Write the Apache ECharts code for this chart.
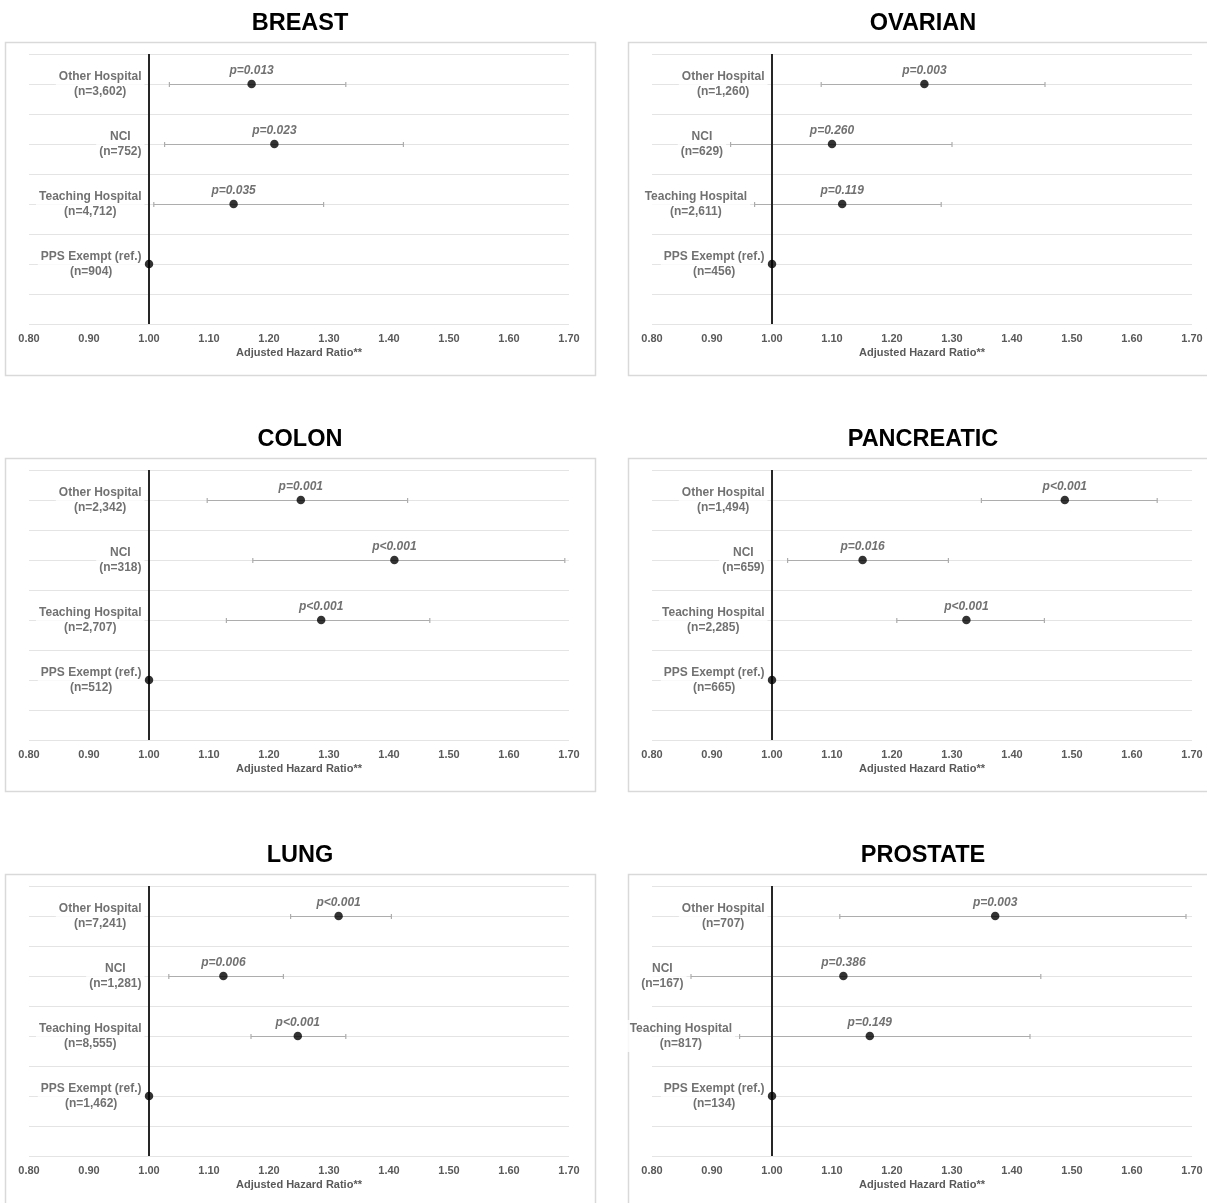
<!DOCTYPE html>
<html>
<head>
<meta charset="utf-8">
<title>Adjusted Hazard Ratios by Hospital Type</title>
<script src="https://cdn.jsdelivr.net/npm/echarts@6/dist/echarts.min.js"></script>
<style>
  html, body { margin: 0; padding: 0; background: #ffffff; }
  #chart { width: 1207px; height: 1203px; }
</style>
</head>
<body>
<div id="chart"></div>
<script>
// Hospital types (top to bottom in each panel)
const categories = ['Other Hospital', 'NCI', 'Teaching Hospital', 'PPS Exempt (ref.)'];
const refValue = 1.0;
const xTicks = ['0.80', '0.90', '1.00', '1.10', '1.20', '1.30', '1.40', '1.50', '1.60', '1.70'];

// BREAST
const breastN = ['3,602', '752', '4,712', '904'];
const breastHR = [1.171, 1.209, 1.141, 1.00];
const breastLow = [1.034, 1.026, 1.008, null];
const breastHigh = [1.328, 1.424, 1.291, null];
const breastP = ['p=0.013', 'p=0.023', 'p=0.035', ''];

// OVARIAN
const ovarianN = ['1,260', '629', '2,611', '456'];
const ovarianHR = [1.254, 1.100, 1.117, 1.00];
const ovarianLow = [1.082, 0.931, 0.971, null];
const ovarianHigh = [1.455, 1.300, 1.282, null];
const ovarianP = ['p=0.003', 'p=0.260', 'p=0.119', ''];

// COLON
const colonN = ['2,342', '318', '2,707', '512'];
const colonHR = [1.253, 1.409, 1.287, 1.00];
const colonLow = [1.097, 1.173, 1.129, null];
const colonHigh = [1.431, 1.693, 1.468, null];
const colonP = ['p=0.001', 'p<0.001', 'p<0.001', ''];

// PANCREATIC
const pancreaticN = ['1,494', '659', '2,285', '665'];
const pancreaticHR = [1.488, 1.151, 1.324, 1.00];
const pancreaticLow = [1.349, 1.026, 1.208, null];
const pancreaticHigh = [1.642, 1.294, 1.454, null];
const pancreaticP = ['p<0.001', 'p=0.016', 'p<0.001', ''];

// LUNG
const lungN = ['7,241', '1,281', '8,555', '1,462'];
const lungHR = [1.316, 1.124, 1.248, 1.00];
const lungLow = [1.236, 1.033, 1.170, null];
const lungHigh = [1.404, 1.224, 1.328, null];
const lungP = ['p<0.001', 'p=0.006', 'p<0.001', ''];

// PROSTATE
const prostateN = ['707', '167', '817', '134'];
const prostateHR = [1.372, 1.119, 1.163, 1.00];
const prostateLow = [1.113, 0.865, 0.946, null];
const prostateHigh = [1.690, 1.448, 1.430, null];
const prostateP = ['p=0.003', 'p=0.386', 'p=0.149', ''];

const panels = [
  { title: 'BREAST', n: breastN, hr: breastHR, low: breastLow, high: breastHigh, p: breastP },
  { title: 'OVARIAN', n: ovarianN, hr: ovarianHR, low: ovarianLow, high: ovarianHigh, p: ovarianP },
  { title: 'COLON', n: colonN, hr: colonHR, low: colonLow, high: colonHigh, p: colonP },
  { title: 'PANCREATIC', n: pancreaticN, hr: pancreaticHR, low: pancreaticLow, high: pancreaticHigh, p: pancreaticP },
  { title: 'LUNG', n: lungN, hr: lungHR, low: lungLow, high: lungHigh, p: lungP },
  { title: 'PROSTATE', n: prostateN, hr: prostateHR, low: prostateLow, high: prostateHigh, p: prostateP }
];

// Row positions on the value-type y axis (0..9), top row first
const rowSlots = [8, 6, 4, 2];

// ---- layout / styling ----
const FONT = '"Liberation Sans", Arial, Helvetica, sans-serif';
const LABEL_GRAY = '#4d4d4d';
const TICK_GRAY = '#595959';
const GRID_GRAY = '#e4e4e4';
const BAR_GRAY = '#adadad';
const colLayout = [{ gridLeft: 29, boxX: 5 }, { gridLeft: 652, boxX: 628 }];
const ROW_STEP = 416;
const GRID_TOP0 = 54, GRID_W = 540, GRID_H = 270;
const BOX_TOP0 = 42, BOX_W = 590, BOX_H = 333;

const chart = echarts.init(document.getElementById('chart'), null, { renderer: 'canvas' });

const titles = [], grids = [], xAxes = [], yAxes = [], series = [], graphics = [];

panels.forEach((pn, i) => {
  const col = colLayout[i % 2];
  const row = Math.floor(i / 2);
  const gridTop = GRID_TOP0 + row * ROW_STEP;
  const boxTop = BOX_TOP0 + row * ROW_STEP;

  graphics.push({
    type: 'rect', silent: true, z: -10,
    shape: { x: col.boxX + 0.5, y: boxTop + 0.5, width: BOX_W, height: BOX_H },
    style: { fill: '#ffffff', stroke: '#d9d9d9', lineWidth: 1.5 }
  });

  titles.push({
    text: pn.title,
    left: col.boxX + BOX_W / 2,
    textAlign: 'center',
    top: boxTop - 30,
    padding: 0,
    textStyle: { fontFamily: FONT, fontSize: 23.5, fontWeight: 'bold', color: '#000000' }
  });

  grids.push({ left: col.gridLeft, top: gridTop, width: GRID_W, height: GRID_H, containLabel: false });

  xAxes.push({
    type: 'value', gridIndex: i, min: 0.8, max: 1.7, interval: 0.1,
    axisLine: { show: false },
    axisTick: { show: false },
    splitLine: { show: false },
    axisLabel: {
      margin: 9, fontFamily: FONT, fontSize: 11, fontWeight: 'bold', color: TICK_GRAY,
      formatter: v => xTicks[Math.round((v - 0.8) * 10)] || v.toFixed(2)
    },
    name: 'Adjusted Hazard Ratio**',
    nameLocation: 'middle',
    nameGap: 23,
    nameTextStyle: { fontFamily: FONT, fontSize: 11, fontWeight: 'bold', color: TICK_GRAY }
  });

  yAxes.push({
    type: 'value', gridIndex: i, min: 0, max: 9, interval: 1,
    axisLine: { show: false },
    axisTick: { show: false },
    axisLabel: { show: false },
    splitLine: { show: true, lineStyle: { color: GRID_GRAY, width: 1 } }
  });

  // confidence interval bars
  const ciData = [];
  pn.hr.forEach((v, k) => {
    if (pn.low[k] != null && pn.high[k] != null) ciData.push([pn.low[k], pn.high[k], rowSlots[k]]);
  });
  series.push({
    type: 'custom', xAxisIndex: i, yAxisIndex: i, z: 3, silent: true,
    data: ciData,
    encode: { x: [0, 1], y: 2 },
    renderItem: (params, api) => {
      const y = api.value(2);
      const a = api.coord([api.value(0), y]);
      const b = api.coord([api.value(1), y]);
      const yy = Math.round(a[1]) + 0.5;
      const cap = 2.5;
      const st = { stroke: BAR_GRAY, lineWidth: 1.2 };
      return {
        type: 'group',
        children: [
          { type: 'line', shape: { x1: a[0], y1: yy, x2: b[0], y2: yy }, style: st },
          { type: 'line', shape: { x1: a[0], y1: yy - cap, x2: a[0], y2: yy + cap }, style: st },
          { type: 'line', shape: { x1: b[0], y1: yy - cap, x2: b[0], y2: yy + cap }, style: st }
        ]
      };
    }
  });

  // reference line at HR = 1.00
  series.push({
    type: 'line', xAxisIndex: i, yAxisIndex: i, z: 4, silent: true,
    data: [[refValue, 0], [refValue, 9]],
    symbol: 'none',
    lineStyle: { color: '#262626', width: 2 }
  });

  // point estimates with p-values
  series.push({
    type: 'scatter', xAxisIndex: i, yAxisIndex: i, z: 6, silent: true,
    symbol: 'circle', symbolSize: 8.5,
    itemStyle: { color: '#000000' },
    data: pn.hr.map((v, k) => ({ value: [v, rowSlots[k]], p: pn.p[k] })),
    label: {
      show: true, position: 'top', distance: 3,
      formatter: prm => prm.data.p,
      fontFamily: FONT, fontSize: 12, fontWeight: 'bold', fontStyle: 'italic', color: LABEL_GRAY
    }
  });

  // hospital-type labels, placed just left of the reference line or the lower CI bound
  series.push({
    type: 'scatter', xAxisIndex: i, yAxisIndex: i, z: 7, silent: true,
    symbol: 'circle', symbolSize: 1,
    itemStyle: { color: 'rgba(0,0,0,0)' },
    data: categories.map((c, k) => ({
      value: [Math.min(refValue, pn.low[k] == null ? refValue : pn.low[k]), rowSlots[k]],
      cat: c, n: pn.n[k]
    })),
    label: {
      show: true, position: 'left', distance: 4,
      backgroundColor: '#ffffff', padding: [1, 3],
      formatter: prm => '{c|' + prm.data.cat + '}\n{c|(n=' + prm.data.n + ')}',
      rich: {
        c: { align: 'center', fontFamily: FONT, fontSize: 12, fontWeight: 'bold', color: LABEL_GRAY, lineHeight: 15 }
      }
    }
  });
});

chart.setOption({
  backgroundColor: '#ffffff',
  animation: false,
  title: titles,
  grid: grids,
  xAxis: xAxes,
  yAxis: yAxes,
  graphic: graphics,
  series: series
});
</script>
</body>
</html>
